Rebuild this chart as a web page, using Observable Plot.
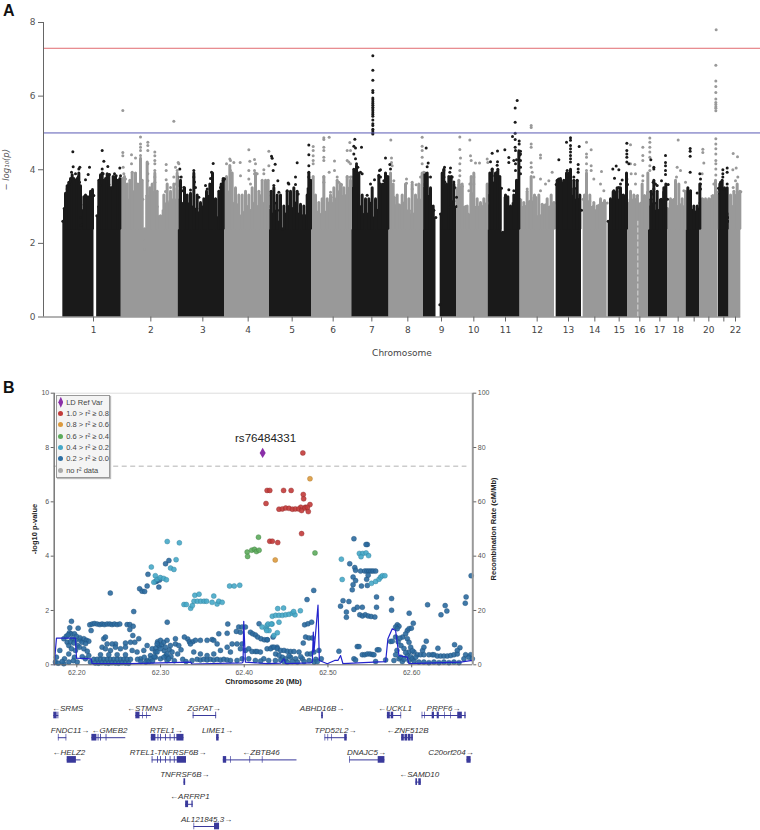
<!DOCTYPE html>
<html><head><meta charset="utf-8">
<script src="https://cdn.jsdelivr.net/npm/d3@7"></script>
<script src="https://cdn.jsdelivr.net/npm/@observablehq/plot@0.6"></script>
<style>
html,body{margin:0;padding:0;background:#fff}
#root{position:relative;width:760px;height:830px;overflow:hidden;font-family:"Liberation Sans",sans-serif}
#root>div,#root>svg{position:absolute}
.tag{font:bold 16px "Liberation Sans",sans-serif;color:#111;line-height:16px}
.legend{left:56px;top:395px;width:52px;height:81px;background:#f4f4f4;border:1.5px solid #999;box-shadow:1px 1px 1px #bbb;font-size:7.5px;color:#444}
.legend .row{position:absolute;left:0;height:11px;line-height:11px;white-space:nowrap}
.legend .sw{position:absolute;left:1.3px;top:3px;width:5px;height:5px;border-radius:50%}
.legend .tx{position:absolute;left:9.2px;top:0}
</style></head><body><div id="root"></div>
<script>
// ---- Panel A: genome-wide scan. x = position along the concatenated genome (plot units), y = -log10(p)
const chromTicks=[92,264,420,556,688,811,927,1035,1136,1233,1328,1423,1517,1596,1669,1731,1791,1846,1894,1938,1983,2018];
const chromNames=["1","2","3","4","5","6","7","8","9","10","11","12","13","14","15","16","17","18","","20","","22"];
const gwsLine=7.3, suggestiveLine=5;
// solid body outline of each chromosome [position, upper -log10 p]
const bodyChr1=[[0,2.6],[4,2.95],[10,3.1],[16,3.3],[22,3.55],[30,3.6],[38,3.4],[46,3.35],[54,3.05],[62,2.9],[68,3.1],[76,3.2],[84,3.35],[93,3.3],[94,0],[101,0],[102,2.75],[108,3.0],[114,3.4],[120,3.55],[126,3.25],[132,3.5],[138,3.6],[146,3.3],[152,3.6],[160,3.4],[168,3.3],[175,3.5]];
const bodyChr2=[[175,3.5],[188,3.2],[203,3.2],[213,3.4],[228,3.3],[233,3.9],[240,3.2],[245,2.4],[253,3.3],[263,3.5],[275,3.4],[283,3.0],[293,2.75],[303,2.9],[313,3.1],[323,3.15],[333,3.2],[346,3.5]];
const bodyChr3=[[346,3.8],[352,3.2],[362,3.1],[372,2.95],[382,3.1],[392,3.0],[402,2.95],[412,2.85],[422,3.0],[432,2.8],[442,3.3],[452,2.7],[462,2.7],[470,3.2],[478,3.4],[485,3.75]];
const bodyChr4=[[485,3.7],[495,3.4],[505,3.4],[515,3.1],[525,3.05],[535,2.75],[545,2.85],[555,3.0],[565,2.9],[575,3.1],[585,3.0],[595,3.3],[605,3.1],[615,3.3],[620,3.0]];
const bodyChr5=[[620,2.9],[628,2.8],[636,3.1],[644,2.9],[652,2.6],[660,2.4],[668,2.8],[678,3.0],[688,2.95],[698,3.1],[708,2.8],[718,2.75],[728,2.75],[738,3.5],[746,3.7]];
const bodyChr6=[[746,3.6],[756,3.1],[766,2.85],[776,2.8],[786,2.85],[796,3.1],[806,3.1],[816,3.2],[826,3.4],[836,3.6],[846,3.3],[856,3.5],[867,3.8]];
const bodyChr7=[[867,3.5],[875,3.8],[885,3.6],[895,3.0],[905,2.8],[915,2.8],[925,3.1],[935,2.7],[945,2.9],[953,3.0],[960,3.3],[970,3.5],[978,3.6]];
const bodyChr8=[[978,3.4],[993,3.25],[1008,3.05],[1023,3.1],[1038,2.9],[1053,2.8],[1068,3.2],[1082,3.6]];
const bodyChr9=[[1082,3.5],[1093,3.8],[1103,3.3],[1113,2.9],[1119,2.7],[1120,0],[1131,0],[1133,2.8],[1143,3.8],[1153,3.0],[1163,3.5],[1173,3.15],[1181,3.0]];
const bodyChr10=[[1181,3.5],[1190,3.6],[1198,3.55],[1208,3.0],[1215,2.8],[1228,3.35],[1243,3.0],[1258,3.0],[1276,3.1]];
const bodyChr11=[[1276,3.3],[1284,3.7],[1294,3.65],[1304,3.7],[1316,3.5],[1320,2.3],[1328,3.25],[1343,2.95],[1353,3.1],[1363,3.6],[1371,4.4]];
const bodyChr12=[[1371,3.2],[1388,3.0],[1403,3.15],[1418,3.25],[1433,2.75],[1448,3.05],[1463,3.0],[1475,3.1]];
const bodyChr13=[[1480,3.6],[1488,3.75],[1498,3.65],[1508,3.3],[1517,3.9],[1525,3.3],[1535,3.5],[1545,3.2],[1556,2.9]];
const bodyChr14=[[1561,3.2],[1571,3.1],[1581,3.15],[1591,3.0],[1601,2.9],[1611,3.05],[1621,3.1],[1633,3.1]];
const bodyChr15=[[1636,2.6],[1644,2.9],[1652,3.4],[1662,3.4],[1672,3.2],[1682,3.3],[1694,3.6]];
const bodyChr16=[[1694,3.1],[1704,3.2],[1715,3.2],[1724,3.3],[1735,3.1],[1745,3.3],[1757,3.4]];
const bodyChr17=[[1757,3.0],[1765,3.2],[1775,3.1],[1785,2.9],[1795,3.2],[1805,3.4],[1814,3.2]];
const bodyChr18=[[1814,2.95],[1824,3.1],[1834,3.2],[1844,3.0],[1854,3.05],[1864,3.0],[1870,2.9]];
const bodyChr19=[[1870,3.0],[1878,3.2],[1888,2.9],[1898,2.85],[1910,2.95]];
const bodyChr20=[[1910,3.1],[1920,3.2],[1930,3.15],[1940,3.2],[1950,3.3],[1966,3.4]];
const bodyChr21=[[1967,3.5],[1975,3.4],[1985,3.2],[1995,2.7],[1998,2.6]];
const bodyChr22=[[1998,2.8],[2008,3.0],[2018,3.3],[2034,3.4]];
const bodiesDark=[bodyChr1,bodyChr3,bodyChr5,bodyChr7,bodyChr9,bodyChr11,bodyChr13,bodyChr15,bodyChr17,bodyChr19,bodyChr21];
const bodiesLight=[bodyChr2,bodyChr4,bodyChr6,bodyChr8,bodyChr10,bodyChr12,bodyChr14,bodyChr16,bodyChr18,bodyChr20,bodyChr22];
// dense columns of variants rising out of the body [position, top -log10 p]
const columnsDark=[[8,3.35],[13,3.55],[18,3.65],[23,3.75],[28,3.85],[33,3.75],[38,3.7],[43,3.75],[48,3.9],[53,3.55],[63,3.25],[68,3.3],[75,3.25],[83,3.4],[89,3.45],[108,3.7],[113,3.85],[118,3.9],[123,3.7],[128,3.75],[133,3.85],[138,3.85],[143,3.5],[151,3.8],[158,3.8],[165,3.7],[171,3.75],
[353,3.7],[365,3.5],[373,3.3],[383,3.35],[393,3.9],[403,3.3],[413,3.1],[423,3.2],[431,3.4],[441,3.6],[449,3.9],[458,3.2],[468,3.4],[475,3.6],[481,3.75],
[625,3.4],[633,3.5],[643,3.3],[653,3.3],[663,3.0],[673,3.4],[683,3.4],[693,3.5],[703,3.4],[713,3.05],[723,3.0],[733,3.3],[738,3.9],[743,3.7],
[873,4.0],[881,4.1],[888,3.9],[898,3.3],[908,3.2],[918,3.2],[928,3.5],[938,3.2],[948,3.8],[953,3.6],[961,3.6],[968,3.9],[975,3.8],
[1086,3.9],[1093,3.9],[1103,3.5],[1111,3.0],[1138,3.9],[1143,4.0],[1151,3.6],[1158,3.8],[1165,3.8],[1173,3.6],
[1281,3.9],[1288,4.0],[1298,3.9],[1305,4.0],[1311,3.8],[1328,3.3],[1335,3.25],[1343,3.0],[1353,3.3],[1361,3.7],[1368,4.5],
[1483,3.7],[1493,3.75],[1503,3.7],[1511,3.9],[1518,3.9],[1523,4.0],[1533,3.7],[1543,3.7],[1551,3.3],
[1643,3.2],[1653,3.4],[1663,3.5],[1673,3.5],[1681,3.3],[1691,3.9],
[1765,3.4],[1773,3.7],[1783,3.4],[1793,3.1],[1803,3.5],[1809,3.6],
[1875,3.5],[1883,3.4],[1893,3.0],[1903,3.0],[1911,3.6],
[1971,3.6],[1978,3.7],[1985,3.5],[1993,3.5]];
const columnsLight=[[178,3.75],[185,3.8],[193,3.6],[201,3.7],[208,3.9],[218,3.9],[225,3.6],[233,4.3],[238,3.7],[253,4.2],[261,3.5],[268,3.6],[276,3.9],[283,3.4],[303,3.3],[313,3.6],[323,3.4],[333,3.6],[343,3.9],
[491,3.8],[501,4.1],[508,3.9],[518,3.5],[528,3.3],[538,3.3],[548,3.4],[558,3.3],[568,3.5],[578,3.9],[588,3.4],[598,3.7],[608,3.7],[616,3.7],
[751,3.8],[758,3.3],[768,3.1],[778,3.2],[783,3.8],[793,3.2],[803,3.3],[813,3.5],[823,3.7],[833,3.6],[843,3.5],[853,3.8],[863,3.7],
[983,3.9],[991,3.6],[1003,3.3],[1018,3.3],[1028,3.6],[1038,3.2],[1048,3.6],[1058,3.3],[1068,3.6],[1078,3.9],
[1188,3.7],[1198,3.6],[1213,3.0],[1225,3.8],[1233,3.9],[1243,3.2],[1253,3.1],[1263,3.2],[1273,3.6],
[1383,3.1],[1393,3.4],[1405,3.8],[1415,3.3],[1428,3.3],[1438,3.05],[1453,3.2],[1465,3.3],[1473,3.1],
[1565,3.3],[1571,3.9],[1581,3.3],[1593,3.1],[1603,3.0],[1613,3.2],[1625,3.15],
[1703,3.4],[1713,3.3],[1723,3.2],[1738,3.6],[1748,3.2],[1755,3.9],
[1823,3.2],[1838,3.7],[1848,3.6],[1858,3.2],[1868,3.4],
[1918,3.2],[1928,3.2],[1938,3.2],[1948,3.2],[1958,3.7],[1963,3.3],
[2003,3.3],[2013,3.4],[2023,3.6],[2031,3.4]];
// individual variants standing above the body
const hitsDark=[[30,4.49],[31,4.08],[26,3.93],[51,4.07],[48,4.02],[80,4.07],[76,3.87],[68,3.73],[38,3.89],[46,3.8],[50,3.66],[23,3.7],[18,3.6],[13,3.48],[8,3.3],[118,4.52],[123,4.23],[135,4.09],[118,4.02],[121,3.89],[133,3.89],[140,3.87],[110,3.7],[113,3.57],[155,3.89],[160,3.84],[171,4.05],[173,3.84],[165,3.66],[158,3.66],[148,3.52],[53,2.7],[55,2.5],
[351,4.02],[355,3.8],[353,3.6],[358,3.43],[363,3.52],[393,3.98],[393,3.8],[395,3.67],[398,3.52],[383,3.45],[408,3.25],[451,4.17],[446,3.93],[443,3.76],[448,3.62],[433,3.48],[428,3.57],[458,3.2],[473,3.52],[481,3.7],[485,3.75],
[626,4.37],[628,4.31],[637,4.15],[631,3.98],[633,3.57],[645,3.7],[648,3.39],[676,3.64],[678,3.61],[698,3.6],[703,4.19],[698,3.8],[673,3.43],[706,3.34],[738,4.67],[738,4.41],[738,4.11],[738,3.93],[738,3.8],[741,3.61],
[930,7.1],[930,6.7],[930,6.43],[930,6.15],[930,6.1],[930,5.95],[930,5.9],[930,5.85],[930,5.8],[930,5.75],[930,5.7],[930,5.65],[930,5.6],[930,5.55],[930,5.5],[930,5.45],[930,5.35],[930,5.25],[930,5.2],[930,5.1],[930,5.05],[930,5.0],[930,4.97],
[876,4.83],[873,4.64],[878,4.59],[896,4.61],[873,4.43],[878,4.3],[881,4.16],[885,4.07],[893,3.93],[878,3.98],[898,3.89],[935,3.73],[923,3.61],[913,3.31],[950,3.98],[948,3.85],[968,4.32],[981,4.14],[983,4.02],[973,3.8],[963,3.7],[953,4.0],[953,3.8],
[1090,4.59],[1096,4.18],[1093,4.08],[1103,3.8],[1145,4.07],[1143,3.98],[1143,3.8],[1146,3.67],[1163,4.05],[1161,3.93],[1168,3.8],[1173,3.67],[1175,3.52],[1181,3.25],[1158,2.98],[1168,3.07],[1131,0.33],
[1288,4.45],[1304,4.51],[1326,4.54],[1283,4.22],[1304,4.22],[1288,4.02],[1303,4.12],[1303,3.93],[1288,3.84],[1338,4.33],[1338,4.2],[1363,5.88],[1357,5.68],[1357,5.29],[1357,4.99],[1349,4.9],[1357,4.82],[1357,4.61],[1369,4.78],[1369,4.7],[1358,4.52],[1373,4.5],[1373,4.43],[1361,4.27],[1373,4.25],[1353,4.25],[1358,4.16],[1373,4.07],[1358,3.98],[1373,3.89],[1338,3.46],[1363,3.7],[1353,3.43],
[1488,4.27],[1511,4.75],[1523,4.87],[1523,4.8],[1523,4.66],[1523,4.57],[1523,4.48],[1523,4.39],[1523,4.3],[1523,4.21],[1549,4.63],[1546,4.14],[1546,4.02],[1546,3.93],[1513,3.98],[1513,3.84],[1523,3.98],[1533,3.8],[1543,3.7],
[1650,4.02],[1660,4.1],[1668,4.0],[1655,3.77],[1678,3.72],[1673,3.61],[1692,4.72],[1692,4.52],[1692,4.43],[1692,4.34],[1692,4.21],[1698,4.16],[1692,3.75],[1692,3.61],[1653,3.43],[1668,3.52],
[1764,4.27],[1773,4.07],[1773,4.02],[1808,4.39],[1808,4.2],[1808,4.11],[1808,3.98],[1808,3.87],[1796,3.7],[1771,3.66],[1778,3.61],[1783,3.57],[1773,3.48],[1808,3.52],[1816,3.6],[1768,3.34],
[1882,4.58],[1882,4.5],[1882,4.37],[1882,3.93],[1911,3.89],[1913,3.75],[1913,3.61],[1913,3.48],[1903,3.37],[1883,3.43],
[1980,4.0],[1993,4.05],[1993,3.93],[1980,3.89],[1980,3.8],[1993,3.61],[1973,3.66],[1983,3.48]];
const hitsLight=[[180,5.61],[333,5.32],[233,4.89],[255,4.75],[255,4.66],[233,4.7],[233,4.61],[233,4.52],[233,4.39],[233,4.25],[255,4.52],[276,4.48],[276,4.38],[276,4.25],[276,4.16],[276,3.98],[276,3.8],[276,3.66],[180,4.47],[180,4.38],[206,4.41],[218,4.32],[181,4.07],[206,4.16],[183,3.89],[188,3.75],[208,3.93],[218,3.89],[233,4.07],[233,3.89],[255,4.16],[255,3.89],[255,3.7],[310,4.14],[310,3.98],[310,3.73],[323,3.52],[308,3.41],[338,4.07],[346,4.2],[343,3.98],[333,3.8],[338,3.61],[348,4.16],[245,2.07],[245,1.85],
[501,4.29],[503,4.25],[491,4.16],[513,4.2],[532,4.2],[558,4.54],[561,4.23],[575,4.28],[578,4.16],[558,3.98],[575,3.98],[575,3.89],[583,3.89],[603,4.0],[603,3.89],[618,4.5],[618,4.11],[503,3.98],[503,3.8],[503,3.66],[533,3.84],[558,3.75],[563,3.61],
[751,4.63],[751,4.52],[751,4.38],[751,4.25],[751,4.16],[783,4.87],[783,4.82],[799,4.88],[783,4.61],[783,4.52],[783,4.34],[783,4.25],[815,4.24],[799,3.93],[815,3.98],[783,3.8],[783,3.66],[823,3.8],[828,3.66],[861,4.74],[853,4.52],[863,4.52],[853,4.25],[858,4.21],[863,4.16],[853,3.8],[863,3.8],[803,3.39],[813,3.25],[833,3.52],
[984,4.81],[986,4.32],[986,4.2],[988,4.11],[993,3.7],[1031,3.75],[1031,3.63],[1048,3.66],[1060,3.59],[1078,4.88],[1078,4.64],[1078,4.52],[1078,4.34],[1078,4.16],[1083,3.93],[1073,3.8],[1028,3.39],[1048,3.48],
[1191,4.89],[1191,4.55],[1193,4.32],[1191,4.16],[1191,3.98],[1191,3.84],[1221,4.81],[1223,4.38],[1225,4.25],[1238,4.18],[1250,4.18],[1233,3.8],[1233,3.61],[1273,4.29],[1275,4.2],[1221,3.61],[1218,3.43],
[1405,5.2],[1405,5.15],[1405,4.7],[1405,4.61],[1433,4.4],[1433,4.32],[1405,4.19],[1405,4.07],[1408,3.93],[1413,3.8],[1433,3.75],[1468,3.93],[1458,3.7],[1448,3.61],[1433,3.43],[1393,3.48],
[1571,4.75],[1585,4.54],[1571,4.43],[1571,4.34],[1571,4.16],[1571,3.98],[1571,3.84],[1571,3.7],[1585,4.11],[1585,3.98],[1593,3.75],[1616,3.95],[1613,3.61],[1623,3.43],
[1703,4.68],[1716,4.14],[1703,4.16],[1705,3.89],[1740,4.61],[1740,4.39],[1740,4.25],[1740,3.84],[1740,3.7],[1718,3.89],[1718,3.61],[1761,4.86],[1761,4.75],[1761,4.61],[1761,4.48],[1761,4.34],[1761,4.11],[1761,3.98],
[1846,4.81],[1843,4.07],[1853,3.98],[1841,3.8],[1838,3.66],[1868,3.66],[1863,3.43],
[1920,4.56],[1920,4.47],[1923,4.18],[1960,7.8],[1959,6.84],[1959,6.41],[1959,6.26],[1959,6.1],[1959,5.92],[1959,5.83],[1959,5.77],[1959,5.71],[1959,5.67],[1959,5.6],[1959,4.84],[1959,4.7],[1959,4.57],[1959,4.43],[1959,4.25],[1959,4.16],[1959,4.02],[1959,3.86],[1918,3.89],[1953,3.61],
[2011,4.44],[2024,4.35],[2010,4.0],[2020,4.05],[2025,3.8],[2018,3.7],[2011,3.52]];

// ---- Panel B: locus view, chromosome 20, x in Mb
const leadVariant={name:"rs76484331",mb:62.422,p:7.8};
const sigLine=7.31;
const mbTicks=[62.2,62.3,62.4,62.5,62.6];
const pTicks=[0,2,4,6,8,10];
const ldRed=[[62.47,7.8],[62.4273,6.42],[62.4305,6.42],[62.447,6.42],[62.456,6.42],[62.4705,6.27],[62.471,6.11],[62.426,5.94],[62.4785,5.9],[62.473,5.8],[62.4675,5.8],[62.4415,5.73],[62.4455,5.74],[62.4495,5.77],[62.4535,5.76],[62.4575,5.73],[62.461,5.74],[62.465,5.74],[62.4685,5.68],[62.4725,5.77],[62.4765,5.64],[62.4755,5.8],[62.4685,4.83],[62.4305,4.55],[62.4335,4.55],[62.44,4.5]];
const ldOrange=[[62.4785,6.85],[62.437,3.86]];
const ldGreen=[[62.417,4.7],[62.4035,4.15],[62.404,3.99],[62.409,4.22],[62.4122,4.25],[62.4146,4.17],[62.4177,4.22],[62.4845,4.12]];
const ldTeal=[[62.308,4.54],[62.3225,4.49],[62.3186,3.87],[62.289,3.6],[62.312,3.56],[62.316,3.51],[62.292,3.04],[62.2958,3.15],[62.2998,3.21],[62.3038,3.18],[62.307,3.13],[62.2938,3.28],
[62.328,2.22],[62.3308,2.22],[62.336,2.08],[62.338,2.18],[62.34,2.34],[62.341,2.56],[62.346,2.6],[62.344,2.34],[62.348,2.34],[62.352,2.34],[62.355,2.34],[62.3636,2.53],[62.3616,2.3],[62.3676,2.24],[62.3696,2.34],[62.3736,2.3],[62.3825,2.9],[62.388,2.9],[62.3946,2.93],
[62.4213,1.39],[62.4261,1.33],[62.4273,1.45],[62.4332,1.5],[62.4296,1.26],[62.4268,1.26],[62.4284,1.5],[62.4323,1.5],[62.4355,1.08],[62.4395,1.18],[62.4415,1.57],[62.4335,1.79],[62.4375,1.82],[62.4415,1.82],[62.4455,1.82],[62.4495,1.84],[62.4535,1.86],[62.4575,1.9],[62.4606,1.84],[62.44,2.07],[62.447,2.09],[62.459,1.96],[62.467,1.99],
[62.516,3.89],[62.517,3.14],[62.5375,4.1],[62.5415,4.1],[62.5455,4.12],[62.5395,3.98],[62.5485,4.02],[62.552,3.0],[62.557,3.07],[62.561,3.15],[62.563,3.23],[62.565,3.28],[62.568,3.28]];
const ldBlue=[[62.24,2.64],[62.268,1.96],[62.308,1.57],[62.275,2.8],[62.278,2.71],[62.281,2.7],[62.284,2.9],[62.285,3.33],[62.306,3.72],[62.31,3.84],[62.298,2.86],[62.2955,3.08],[62.2988,3.12],[62.2938,3.06],
[62.1745,.1],[62.1757,.28],[62.1797,.53],[62.1853,.22],[62.1885,.83],[62.1845,.96],[62.1912,1.18],[62.1932,1.14],[62.1972,1.14],[62.1944,.96],[62.1984,.9],[62.1904,.71],[62.1936,.59],[62.1984,.53],[62.2012,.71],[62.1904,.4],[62.1972,.28],[62.2044,.9],[62.2064,.83],[62.2084,.96],[62.2115,.9],[62.2143,.87],[62.2032,.65],[62.2084,.59],[62.2143,.34],[62.2103,.22],[62.2163,.1],[62.2171,1.26],[62.1936,1.6],[62.1916,1.36],[62.2016,1.35],[62.1845,.04],
[62.1778,.06],[62.1825,.12],[62.1905,.1],[62.1958,.15],[62.2005,.1],[62.2065,.3],[62.2125,.5],[62.2035,1.0],[62.1995,1.05],[62.1875,1.05],[62.1895,1.1],[62.1925,.85],[62.1965,.8],[62.2105,.78],
[62.2155,1.47],[62.2183,1.5],[62.2211,1.52],[62.2243,1.5],[62.2275,1.48],[62.2302,1.5],[62.233,1.48],[62.2362,1.5],[62.2394,1.5],[62.2422,1.48],[62.245,1.5],[62.2482,1.48],[62.2513,1.5],[62.2601,1.48],[62.2633,1.48],[62.2673,1.42],[62.2669,1.08],[62.2633,1.3],[62.2322,.96],[62.2342,1.02],[62.274,.96],[62.2693,.83],[62.2641,.83],[62.2581,.8],[62.2462,.77],[62.2422,.77],[62.2362,.77],[62.2302,.65],[62.2342,.59],[62.2402,.53],[62.2462,.65],[62.2521,.59],[62.2581,.65],[62.2661,.53],[62.272,.47],[62.28,.53],[62.284,.71],[62.29,.59],[62.2939,.47],
[62.2203,.2],[62.2243,.2],[62.2283,.2],[62.2323,.2],[62.2363,.2],[62.2402,.2],[62.2442,.2],[62.2482,.2],[62.2522,.2],[62.2561,.2],[62.2601,.2],[62.2641,.2],[62.2283,.37],[62.2382,.37],[62.2482,.37],[62.2581,.37],[62.2760,.22],[62.2840,.16],[62.288,.34],[62.2939,.28],[62.2999,.22],[62.3078,.16],
[62.222,.07],[62.226,.06],[62.23,.08],[62.234,.07],[62.238,.06],[62.242,.08],[62.246,.07],[62.25,.06],[62.254,.08],[62.258,.07],[62.262,.06],[62.2725,.2],[62.2765,.12],[62.2805,.28],[62.2825,.1],[62.2865,.12],[62.2885,.22],[62.2905,.14],[62.2925,.3],[62.2945,.62],[62.2965,.85],[62.2985,.7],[62.3015,.74],[62.3045,.52],[62.3065,.33],[62.3105,.55],[62.3125,.3],[62.3165,.15],[62.3205,.4],[62.3245,.55],[62.3265,.2],[62.3305,.12],[62.3325,.95],[62.3345,.85],[62.3385,.85],
[62.2999,.9],[62.3039,.83],[62.3078,.9],[62.2959,.77],[62.3118,.71],[62.3058,.65],[62.2999,.59],[62.2959,.47],[62.3078,.4],[62.3138,.47],[62.3039,.28],[62.3098,.22],[62.3178,.77],[62.3218,.71],[62.3285,1.02],[62.3178,.96],[62.3357,.77],[62.3417,.9],[62.3476,.9],[62.3556,.9],[62.3616,.93],[62.3377,.16],[62.3437,.2],[62.3476,.18],[62.3516,.2],[62.3556,.18],[62.3596,.2],[62.3636,.18],[62.3676,.2],[62.3716,.18],[62.3756,.2],[62.3796,.18],[62.3636,.4],[62.3716,.53],[62.3796,.65],[62.3835,.47],[62.3855,.77],[62.3914,.77],[62.3974,.77],[62.3696,1.14],[62.3796,1.16],[62.3636,.9],[62.3676,.77],[62.3556,.34],[62.3476,.4],[62.3397,.47],
[62.3803,1.5],[62.3906,1.23],[62.3934,1.39],[62.3974,1.39],[62.4014,1.39],[62.3954,1.2],[62.4074,1.2],[62.4101,1.14],[62.4133,1.1],[62.4161,1.02],[62.42,.96],[62.424,.92],[62.4273,.92],[62.4177,1.51],[62.3954,.59],[62.4014,.53],[62.4054,.59],[62.4093,.49],[62.4133,.49],[62.4153,.49],[62.4193,.47],[62.4273,.59],[62.4332,.65],[62.4392,.65],[62.3974,.22],[62.4054,.22],[62.4133,.16],[62.4233,.22],[62.4292,.16],[62.4372,.16],[62.3835,.16],[62.3914,.16],[62.4344,1.02],[62.4196,.14],[62.4276,.92],[62.4315,.59],[62.4355,.65],[62.4395,.59],[62.4435,.53],[62.4475,.53],[62.4514,.5],[62.4554,.49],[62.4594,.49],[62.4654,.47],[62.4375,.4],[62.4455,.28],[62.4495,.22],[62.4554,.28],[62.4614,.22],[62.4694,.22],[62.4753,.4],[62.4793,.4],[62.4833,.47],[62.4892,.53],[62.4705,.8],[62.4733,1.02],[62.4773,.99],[62.4813,.99],[62.4721,1.47],[62.4761,1.51],[62.4805,1.57],
[62.4415,.35],[62.4435,.18],[62.4475,.12],[62.4515,.1],[62.4535,.33],[62.4575,.12],[62.4635,.1],[62.4675,.3],[62.4715,.12],[62.4775,.16],[62.4855,.2],[62.4835,.1],
[62.483,2.74],[62.475,2.4],[62.492,.22],[62.4873,.12],[62.5131,.5],[62.531,.22],[62.533,.18],[62.535,.67],[62.537,.67],[62.541,.37],[62.5438,.37],[62.547,.4],[62.5501,.4],[62.5529,.38],[62.5549,.37],[62.5589,.55],[62.5609,.55],[62.5569,.12],[62.5689,.18],[62.5748,.86],[62.5768,.87],[62.5808,1.02],[62.5828,1.47],[62.5848,1.42],[62.5808,1.39],[62.5828,1.33],[62.5872,.71],[62.5824,.53],[62.5808,.37],[62.5788,.16],[62.5848,.22],[62.5892,1.02],[62.5948,1.26],[62.5968,1.33],[62.5996,1.35],[62.6019,1.53],[62.5928,1.14],[62.5948,.96],[62.5968,.83],[62.5988,.65],[62.5968,.47],[62.5948,.34],[62.5968,.16],[62.6027,.47],[62.6067,.37],[62.6106,.37],[62.6146,.37],[62.613,.53],[62.6146,.65],[62.6174,.87],[62.6206,.37],[62.6246,.37],[62.6313,.61],[62.6266,.37],[62.6306,.32],[62.6346,.32],[62.6385,.32],[62.6425,.32],[62.6465,.34],[62.6512,.74],[62.6505,.37],[62.6545,.4],[62.6576,.63],[62.6545,.53],[62.6624,.22],[62.6704,.37],[62.6644,.37],[62.6684,.28],[62.6724,.22],
[62.5988,.3],[62.6008,.22],[62.6028,.14],[62.6048,.28],[62.6008,.52],[62.5908,.6],[62.5928,.45],[62.5868,.28],[62.5888,.12],[62.5908,.2],[62.5838,.85],[62.5858,.98],
[62.6087,.1],[62.6146,.1],[62.6206,.08],[62.6266,.1],[62.6326,.08],[62.6385,.1],[62.6445,.08],[62.6505,.1],[62.6565,.08],
[62.531,4.64],[62.547,4.43],[62.5455,4.43],[62.526,3.72],[62.532,3.58],[62.533,3.48],[62.539,3.45],[62.544,3.45],[62.5465,3.45],[62.549,3.45],[62.5515,3.45],[62.554,3.45],[62.557,3.45],[62.53,3.23],[62.533,3.1],[62.5462,3.15],[62.548,3.3],[62.53,2.95],[62.529,2.76],[62.54,2.9],[62.547,2.92],
[62.518,2.36],[62.525,2.33],[62.558,2.5],[62.576,2.44],[62.515,2.16],[62.531,2.04],[62.535,2.12],[62.541,2.12],[62.558,2.12],[62.522,1.94],[62.522,1.75],[62.576,2.01],[62.538,1.84],[62.5412,1.8],[62.5445,1.84],[62.548,1.8],[62.5515,1.78],[62.556,1.76],[62.597,1.9],[62.619,2.21],[62.64,2.18],[62.642,1.98],[62.635,1.84],[62.665,2.5],[62.664,2.27],[62.671,3.28]];
// recombination rate in cM/Mb
const recombMb=[62.173,62.1757,62.1984,62.1996,62.2171,62.2183,62.2641,62.3357,62.3377,62.3974,62.3986,62.3994,62.4006,62.4014,62.4273,62.4435,62.4475,62.4495,62.4793,62.4813,62.4825,62.4833,62.4881,62.4897,62.4992,62.508,62.5119,62.5151,62.5179,62.5549,62.5689,62.5716,62.5768,62.5808,62.5848,62.5947,62.5967,62.6584,62.6723];
const recombRate=[0,9.8,9.8,2.45,2.2,.4,.4,1,.3,.7,1,16,7,1,.4,.6,2.2,.4,.7,1,12,4.7,22,1.6,.4,1.6,1.6,3.4,.4,1,1.2,9.6,13.3,12.6,3.4,2.8,.4,1,1.6];
const legendLabels=["LD Ref Var","1.0 > r² ≥ 0.8","0.8 > r² ≥ 0.6","0.6 > r² ≥ 0.4","0.4 > r² ≥ 0.2","0.2 > r² ≥ 0.0","no r² data"];
const legendColors=["#8a2fa8","#c23b3a","#dc9a3e","#5dab5c","#46a8c8","#2f6fa3","#aaa"];

// ---- Genes: label, label centre (Mb), track, start, end, exon [start,end] pairs
const geneNames=["←SRMS","FNDC11→","←GMEB2","←HELZ2","←STMN3","RTEL1→","RTEL1-TNFRSF6B→","TNFRSF6B→","←ARFRP1","AL121845.3→","ZGPAT→","LIME1→","←ZBTB46","ABHD16B→","TPD52L2→","DNAJC5→","←UCKL1","←ZNF512B","←SAMD10","PRPF6→","C20orf204→"];
const geneLabelMb=[62.189,62.192,62.239,62.1905,62.281,62.307,62.309,62.329,62.335,62.355,62.352,62.368,62.42,62.493,62.509,62.546,62.58,62.595,62.609,62.638,62.647];
const geneTrack=[0,1,1,2,0,1,2,3,4,5,0,1,2,0,1,2,0,1,3,0,2];
const geneStart=[62.1725,62.178,62.218,62.1885,62.2705,62.289,62.29,62.328,62.33,62.34,62.339,62.367,62.375,62.4925,62.4965,62.526,62.571,62.588,62.605,62.6125,62.666];
const geneEnd=[62.1785,62.188,62.2585,62.205,62.289,62.328,62.331,62.33,62.339,62.3705,62.367,62.37,62.463,62.4945,62.523,62.568,62.588,62.602,62.6115,62.665,62.671];
const geneExons=[
 [[62.1725,62.1765],[62.1775,62.1785]],
 [[62.178,62.1788],[62.1872,62.188]],
 [[62.218,62.224],[62.2255,62.2265],[62.2285,62.2295],[62.235,62.236]],
 [[62.1885,62.1995]],
 [[62.2705,62.2755],[62.2785,62.2793],[62.2835,62.2843]],
 [[62.289,62.2945],[62.297,62.298],[62.3,62.301],[62.306,62.307],[62.3115,62.3125],[62.3165,62.3175],[62.3195,62.328]],
 [[62.29,62.291],[62.2965,62.2975],[62.3,62.301],[62.306,62.307],[62.3115,62.3125],[62.3165,62.3175],[62.32,62.331]],
 [[62.328,62.33]],
 [[62.33,62.3335],[62.3375,62.339]],
 [[62.34,62.3408],[62.3645,62.3705]],
 [[62.339,62.34],[62.366,62.367]],
 [[62.367,62.37]],
 [[62.375,62.379],[62.3838,62.3846],[62.4068,62.4076],[62.4216,62.4224]],
 [[62.4925,62.4945]],
 [[62.4965,62.4973],[62.5,62.5008],[62.5045,62.5053],[62.52,62.523]],
 [[62.526,62.5268],[62.56,62.568]],
 [[62.571,62.5745],[62.5755,62.5785],[62.5872,62.588]],
 [[62.588,62.5912],[62.592,62.5952],[62.596,62.5992],[62.6,62.602]],
 [[62.605,62.607],[62.6085,62.6115]],
 [[62.6125,62.6133],[62.6157,62.6165],[62.6245,62.6272],[62.6305,62.633],[62.6395,62.6403],[62.6465,62.6473],[62.655,62.6605],[62.6635,62.665]],
 [[62.666,62.671]]
];

const GENE="#39399b", DARK="#1a1a1a", LIGHT="#999999";
const root=document.getElementById("root");
function place(node,top){node.style.left="0px";node.style.top=top+"px";root.appendChild(node);return node;}

// ---- A
const darkRows=bodiesDark.flatMap((b,i)=>b.map(d=>({x:d[0],y:d[1],z:i})));
const lightRows=bodiesLight.flatMap((b,i)=>b.map(d=>({x:d[0],y:d[1],z:i})));
const edgeDots=r=>r.filter(d=>d.y>0);
const columnRule=(data,stroke)=>Plot.ruleX(data,{x:d=>d[0],y1:2.4,y2:d=>d[1],stroke,strokeWidth:3,strokeLinecap:"round"});
const plotA=Plot.plot({
  width:760,height:370,marginLeft:43,marginRight:0,marginTop:22,marginBottom:53.5,
  style:{background:"transparent",fontFamily:"DejaVu Sans",color:"#444"},
  x:{domain:[-58,2093],axis:null},y:{domain:[0,8],axis:null},
  marks:[
    Plot.areaY(lightRows,{x:"x",y:"y",z:"z",fill:LIGHT,curve:"step"}),
    Plot.areaY(darkRows,{x:"x",y:"y",z:"z",fill:DARK,curve:"step"}),
    Plot.dot(edgeDots(lightRows),{x:"x",y:"y",r:1.5,fill:LIGHT}),
    Plot.dot(edgeDots(darkRows),{x:"x",y:"y",r:1.5,fill:DARK}),
    columnRule(columnsLight,LIGHT),
    columnRule(columnsDark,DARK),
    Plot.ruleX([1725],{y1:0,y2:2.6,stroke:"#fff",strokeWidth:.8,strokeOpacity:.8,strokeDasharray:"5,2"}),
    Plot.dot(hitsLight,{x:d=>d[0],y:d=>d[1],r:1.5,fill:LIGHT}),
    Plot.dot(hitsDark,{x:d=>d[0],y:d=>d[1],r:1.5,fill:DARK}),
    Plot.ruleY([gwsLine],{stroke:"#e26b70",strokeWidth:1}),
    Plot.ruleY([suggestiveLine],{stroke:"#5a5ab5",strokeWidth:1}),
    Plot.ruleX([-58],{y1:0,y2:8,stroke:"#666",strokeWidth:1}),
    Plot.ruleY([0],{x1:-58,x2:2034,stroke:"#666",strokeWidth:1}),
    Plot.axisY({ticks:[0,2,4,6,8],tickSize:5,tickPadding:3,fontSize:9,label:null,stroke:"#666",color:"#555"}),
    Plot.axisX({ticks:chromTicks,tickSize:5,tickPadding:5,fontSize:9,tickFormat:(d,i)=>chromNames[i],label:"Chromosome",labelArrow:"none",labelAnchor:"center",labelOffset:39,stroke:"#666",color:"#444"}),
    Plot.text(["− log₁₀(p)"],{frameAnchor:"left",textAnchor:"middle",dx:-37,dy:0,rotate:-90,fontSize:8.5,fill:"#555",fontStyle:"italic"})
  ]
});
place(plotA,0);

// ---- B
const diamond={draw(c,s){const r=Math.sqrt(s);c.moveTo(0,-r*0.85);c.lineTo(r*0.5,0);c.lineTo(0,r*0.85);c.lineTo(-r*0.5,0);c.closePath();}};
const ldDot=(data,fill,stroke)=>Plot.dot(data,{x:d=>d[0],y:d=>d[1],r:2.5,fill,fillOpacity:.9,stroke,strokeWidth:.4});
const recomb=recombMb.map((m,i)=>({m,y:recombRate[i]/10}));
const plotB=Plot.plot({
  width:760,height:320,marginLeft:53.7,marginRight:287.7,marginTop:17.7,marginBottom:30.7,
  style:{background:"transparent",fontFamily:"Liberation Sans",color:"#555"},
  x:{domain:[62.173,62.673],axis:null},y:{domain:[0,10],axis:null},
  marks:[
    Plot.ruleY([10],{stroke:"#ddd",strokeWidth:1}),
    Plot.ruleY([sigLine],{stroke:"#ccc",strokeWidth:1.5,strokeDasharray:"5,3.5",x1:62.173,x2:62.666}),
    ldDot(ldBlue,"#2b6a9e","#1f4f78"),
    ldDot(ldTeal,"#46a8c8","#2f7f99"),
    ldDot(ldGreen,"#5dab5c","#3f7f3f"),
    ldDot(ldOrange,"#dc9a3e","#a87528"),
    ldDot(ldRed,"#c23b3a","#8f2a2a"),
    Plot.line(recomb,{x:"m",y:"y",stroke:"#2323cc",strokeWidth:1.2}),
    Plot.dot([leadVariant],{x:"mb",y:"p",symbol:diamond,r:3.4,fill:"#8a2fa8"}),
    Plot.text([leadVariant],{x:62.4255,y:"p",text:"name",dy:-15,fontSize:11.6,fill:"#222",fontFamily:"Liberation Sans"}),
    Plot.ruleX([62.173],{y1:0,y2:10,stroke:"#777",strokeWidth:1.5}),
    Plot.ruleX([62.673],{y1:0,y2:10,stroke:"#999",strokeWidth:2}),
    Plot.ruleY([0],{stroke:"#666",strokeWidth:1}),
    Plot.axisY({anchor:"left",ticks:pTicks,tickSize:3,tickPadding:2,fontSize:7,label:null,stroke:"#666",color:"#555"}),
    Plot.axisY({anchor:"right",ticks:pTicks,tickSize:3,tickPadding:2,fontSize:7,tickFormat:d=>d*10,label:null,stroke:"#666",color:"#555"}),
    Plot.axisX({ticks:mbTicks,tickSize:3,tickPadding:2,fontSize:7,tickFormat:d=>d.toFixed(2),label:null,stroke:"#666",color:"#555"}),
    Plot.text(["-log10 p-value"],{frameAnchor:"left",textAnchor:"middle",dx:-20,rotate:-90,fontSize:7.5,fontWeight:"bold",fill:"#222"}),
    Plot.text(["Recombination Rate (cM/Mb)"],{frameAnchor:"right",textAnchor:"middle",dx:21,rotate:-90,fontSize:7.5,fontWeight:"bold",fill:"#222"}),
    Plot.text(["Chromosome 20 (Mb)"],{frameAnchor:"bottom",dy:19,fontSize:7.5,fontWeight:"bold",fill:"#222"})
  ]
});
place(plotB,375);

// ---- Genes
const geneRows=geneNames.map((n,i)=>({n,lab:geneLabelMb[i],t:geneTrack[i],a:geneStart[i],b:geneEnd[i]}));
const exonRows=geneExons.flatMap((ex,i)=>ex.map(e=>({a:e[0],b:e[1],y1:geneTrack[i]-.15,y2:geneTrack[i]+.15})));
const plotG=Plot.plot({
  width:760,height:135,marginLeft:53.7,marginRight:287.7,marginTop:20,marginBottom:4,
  style:{background:"transparent",fontFamily:"Liberation Sans",overflow:"visible"},
  x:{domain:[62.173,62.673],axis:null},y:{domain:[0,5],reverse:true,axis:null},
  marks:[
    Plot.ruleY(geneRows,{y:"t",x1:"a",x2:"b",stroke:GENE,strokeWidth:1}),
    Plot.rect(exonRows,{x1:"a",x2:"b",y1:"y1",y2:"y2",fill:GENE}),
    Plot.text(geneRows,{x:"lab",y:"t",text:"n",dy:-7.5,fontSize:8,fontStyle:"italic",fill:"#333",fontFamily:"Liberation Sans"})
  ]
});
place(plotG,695);

// ---- Panel tags + LD legend
for(const [t,top] of [["A",3],["B",380]]){
  const d=document.createElement("div");d.className="tag";d.textContent=t;d.style.left="3px";d.style.top=top+"px";root.appendChild(d);
}
const lg=document.createElement("div");lg.className="legend";
legendLabels.forEach((t,i)=>{
  const r=document.createElement("div");r.className="row";r.style.top=(0.7+i*11.33)+"px";
  const s=document.createElement("span");s.className="sw";s.style.background=legendColors[i];
  if(i===0){s.style.borderRadius="0";s.style.width="5px";s.style.height="11px";s.style.left="1.3px";s.style.top="0";s.style.clipPath="polygon(50% 0,100% 50%,50% 100%,0 50%)";}
  const x=document.createElement("span");x.className="tx";x.textContent=t;
  r.append(s,x);lg.appendChild(r);
});
root.appendChild(lg);
</script></body></html>
